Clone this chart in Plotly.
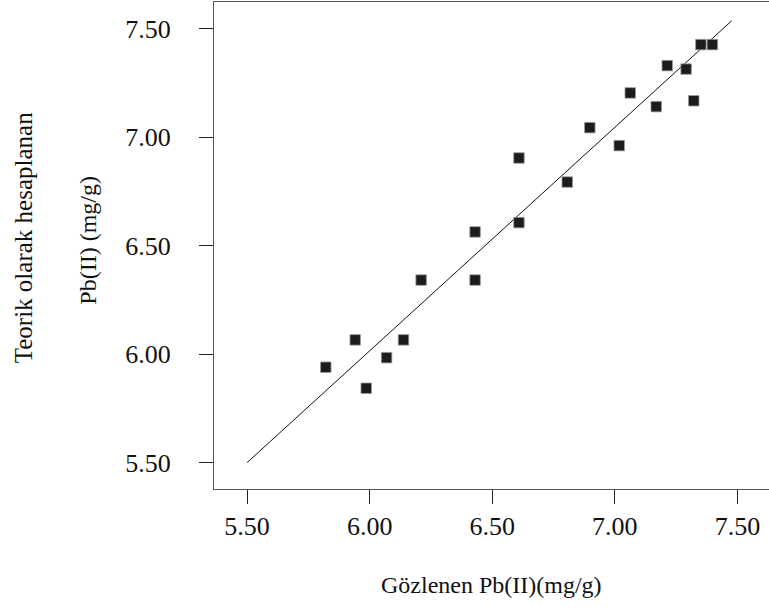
import plotly.graph_objects as go

# Observed vs. theoretically calculated Pb(II) (mg/g)
observed = [5.821, 5.941, 5.986, 6.069, 6.138, 6.210, 6.430, 6.430, 6.609, 6.609,
            6.806, 6.898, 7.018, 7.063, 7.169, 7.214, 7.291, 7.322, 7.351, 7.398]
predicted = [5.940, 6.066, 5.843, 5.984, 6.066, 6.342, 6.342, 6.564, 6.607, 6.905,
             6.794, 7.045, 6.962, 7.205, 7.142, 7.331, 7.315, 7.169, 7.428, 7.428]

# fit line end points
fit_x = [5.50, 7.477]
fit_y = [5.50, 7.538]

tick_vals = [5.5, 6.0, 6.5, 7.0, 7.5]
tick_text = ["5.50", "6.00", "6.50", "7.00", "7.50"]

x_title = "Gözlenen Pb(II)(mg/g)"
y_title_1 = "Teorik olarak hesaplanan"
y_title_2 = "Pb(II) (mg/g)"

FONT = "Liberation Serif, Times New Roman, serif"

fig = go.Figure()
fig.add_trace(go.Scatter(
    x=fit_x, y=fit_y, mode="lines",
    line=dict(color="#111111", width=1), showlegend=False, hoverinfo="skip"))
fig.add_trace(go.Scatter(
    x=observed, y=predicted, mode="markers",
    marker=dict(symbol="square", size=10.5, color="#1c1c1c",
                line=dict(color="#9a9a9a", width=0.8)),
    showlegend=False))

axis_common = dict(
    showgrid=False, zeroline=False, showline=True, linecolor="#555555", linewidth=1,
    ticks="outside", ticklen=14, tickwidth=1, tickcolor="#222222",
    tickvals=tick_vals, ticktext=tick_text,
    tickfont=dict(family=FONT, size=26, color="#111111"),
)

fig.update_layout(
    width=769, height=610,
    margin=dict(l=214, r=0, t=2, b=121),
    paper_bgcolor="white", plot_bgcolor="white",
    xaxis=dict(range=[5.365, 7.629], mirror=True, **axis_common),
    yaxis=dict(range=[5.3782, 7.6245], ticklabelstandoff=23, **axis_common),
    annotations=[
        dict(text=x_title, xref="paper", yref="paper", x=0.5, y=-0.197,
             xanchor="center", yanchor="middle", showarrow=False,
             font=dict(family=FONT, size=24, color="#111111")),
        dict(text=y_title_1, xref="paper", yref="paper", x=-0.344, y=0.515,
             xanchor="center", yanchor="middle", showarrow=False, textangle=-90,
             font=dict(family=FONT, size=25, color="#111111")),
        dict(text=y_title_2, xref="paper", yref="paper", x=-0.227, y=0.51,
             xanchor="center", yanchor="middle", showarrow=False, textangle=-90,
             font=dict(family=FONT, size=24, color="#111111")),
    ],
)

fig.write_html("out.html")
